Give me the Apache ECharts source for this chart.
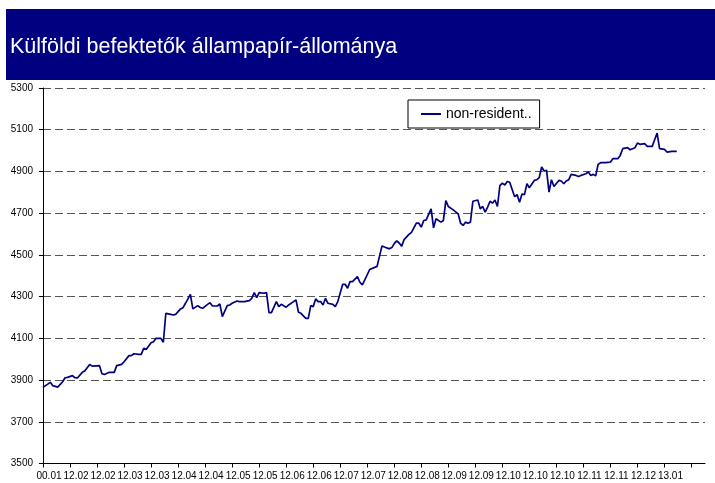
<!DOCTYPE html>
<html>
<head>
<meta charset="utf-8">
<script src="https://cdn.jsdelivr.net/npm/echarts@6/dist/echarts.min.js"></script>
<style>
html,body{margin:0;padding:0;background:#fff;}
#chart{width:715px;height:483px;}
</style>
</head>
<body>
<div id="chart"></div>
<script>
const chartTitle = 'Külföldi befektetők állampapír-állománya';
const seriesName = 'non-resident..';
const tickLabels = ['00.01','12.02','12.02','12.03','12.03','12.04','12.04','12.05','12.05','12.06','12.06','12.07','12.07','12.08','12.08','12.09','12.09','12.10','12.10','12.10','12.11','12.11','12.12','13.01'];
const daysPerTick = 11;
const yTicks = {min: 3500, max: 5300, step: 200};

// trading-day index of each reading
const dayIndex = [
  0,3,4,6,8,9,10,12,13,14,16,17,19,20,23,24,25,27,29,30,32,33,35,36,37,39,40,41,42,44,45,46,48,49,50,52,53,54,56,57,58,60,61,63,64,
  65,67,68,69,71,72,73,75,76,77,79,80,82,84,85,86,87,88,90,91,92,93,95,96,97,99,100,102,103,104,105,107,108,109,110,111,112,113,114,115,116,118,119,120,122,123,124,125,126,128,129,130,131,
  133,136,
  138,139,141,142,143,144,145,146,147,149,150,151,152,153,154,155,156,158,159,160,162,163,164,165,167,169,170,171,172,173,174,175,177,178,179,180,181,182,183,184,185,186,187,188,189,190,192,193,194,195,196,
  197,198,200,201,202,203,204,205,206,207,208,210,211,212,213,214,215,217,218,219,221,222,223,224,225,226,227,229,231,232,234,235,236,238,239,241,242,243,245,246,248,249,250,251,253,254,256,258
];
// holdings (bn HUF)
const holdings = [
  3865,3889,3873,3866,3892,3911,3913,3921,3911,3910,3937,3943,3975,3967,3969,3930,3927,3937,3937,3969,3975,3988,4017,4017,4026,4023,4023,4052,4047,4079,4084,4100,4100,4081,4220,4215,4212,4215,4241,4247,4268,4311,4241,4257,4248,
  4244,4263,4271,4255,4255,4265,4204,4257,4260,4268,4279,4276,4276,4281,4292,4319,4295,4319,4316,4319,4223,4223,4276,4252,4263,4249,4260,4276,4284,4225,4220,4196,4196,4257,4252,4289,4276,4276,4260,4292,4268,4263,4252,4276,4359,4359,4340,4372,4372,4396,4369,4356,4380,
  4430,4445,
  4543,4538,4529,4535,4554,4567,4557,4541,4573,4598,4608,4630,4652,4652,4633,4665,4668,4721,4630,4673,4657,4665,4760,4732,4716,4697,4652,4641,4657,4652,4657,4757,4763,4721,4732,4705,4729,4757,4748,4763,4732,4832,4844,4835,4852,4848,4779,4789,4752,4792,4789,
  4841,4822,4857,4860,4870,4921,4902,4905,4801,4860,4828,4857,4854,4841,4854,4860,4886,4881,4876,4881,4889,4897,4881,4886,4879,4934,4942,4942,4945,4961,4961,4977,5009,5014,5004,5014,5036,5030,5033,5020,5020,5052,5084,5009,5006,4993,4996,4996
];

const FONT = "'Liberation Sans', Arial, sans-serif";
const chart = echarts.init(document.getElementById('chart'), null, {renderer: 'canvas'});
const data = dayIndex.map((d, i) => [d, holdings[i]]);
const labelValues = tickLabels.map((_, k) => k * daysPerTick);
const tickValues = labelValues.concat([tickLabels.length * daysPerTick]);

chart.setOption({
  backgroundColor: '#ffffff',
  animation: false,
  graphic: [
    {type: 'rect', left: 6, top: 9, shape: {width: 709, height: 71}, style: {fill: '#000080'}, z: 0},
    {type: 'text', left: 10, top: 36, style: {text: chartTitle, fill: '#ffffff', font: "21.5px 'Liberation Sans', Arial, sans-serif"}, z: 1}
  ],
  legend: {
    left: 408, top: 100,
    backgroundColor: '#ffffff',
    borderColor: '#000000', borderWidth: 1,
    padding: [6, 8, 6, 13],
    icon: 'rect',
    itemWidth: 20, itemHeight: 2,
    textStyle: {fontFamily: FONT, fontSize: 14, color: '#000', lineHeight: 16},
    data: [seriesName]
  },
  grid: {left: 43, right: 10, top: 88, bottom: 19.5, containLabel: false},
  xAxis: {
    type: 'value',
    min: 0,
    max: (tickLabels.length + 0.5) * daysPerTick,
    interval: daysPerTick,
    axisLine: {show: true, lineStyle: {color: '#000', width: 1}},
    axisTick: {show: true, length: 4, lineStyle: {color: '#000'}, customValues: tickValues},
    splitLine: {show: false},
    axisLabel: {
      margin: 8,
      fontFamily: FONT, fontSize: 10, color: '#000',
      padding: [0, 0, 0, 12],
      customValues: labelValues,
      formatter: v => tickLabels[Math.round(v / daysPerTick)] || ''
    }
  },
  yAxis: {
    type: 'value',
    min: yTicks.min, max: yTicks.max, interval: yTicks.step,
    axisLine: {show: true, lineStyle: {color: '#000', width: 1}},
    axisTick: {show: true, length: 4, lineStyle: {color: '#000'}},
    axisLabel: {margin: 10, fontFamily: FONT, fontSize: 10, color: '#000', formatter: v => String(v)},
    splitLine: {show: true, lineStyle: {color: '#555', type: [8, 4], width: 1}}
  },
  series: [{
    name: seriesName,
    type: 'line',
    data: data,
    symbol: 'none',
    showSymbol: false,
    lineStyle: {color: '#000080', width: 1.7},
    itemStyle: {color: '#000080'}
  }]
});
</script>
</body>
</html>
